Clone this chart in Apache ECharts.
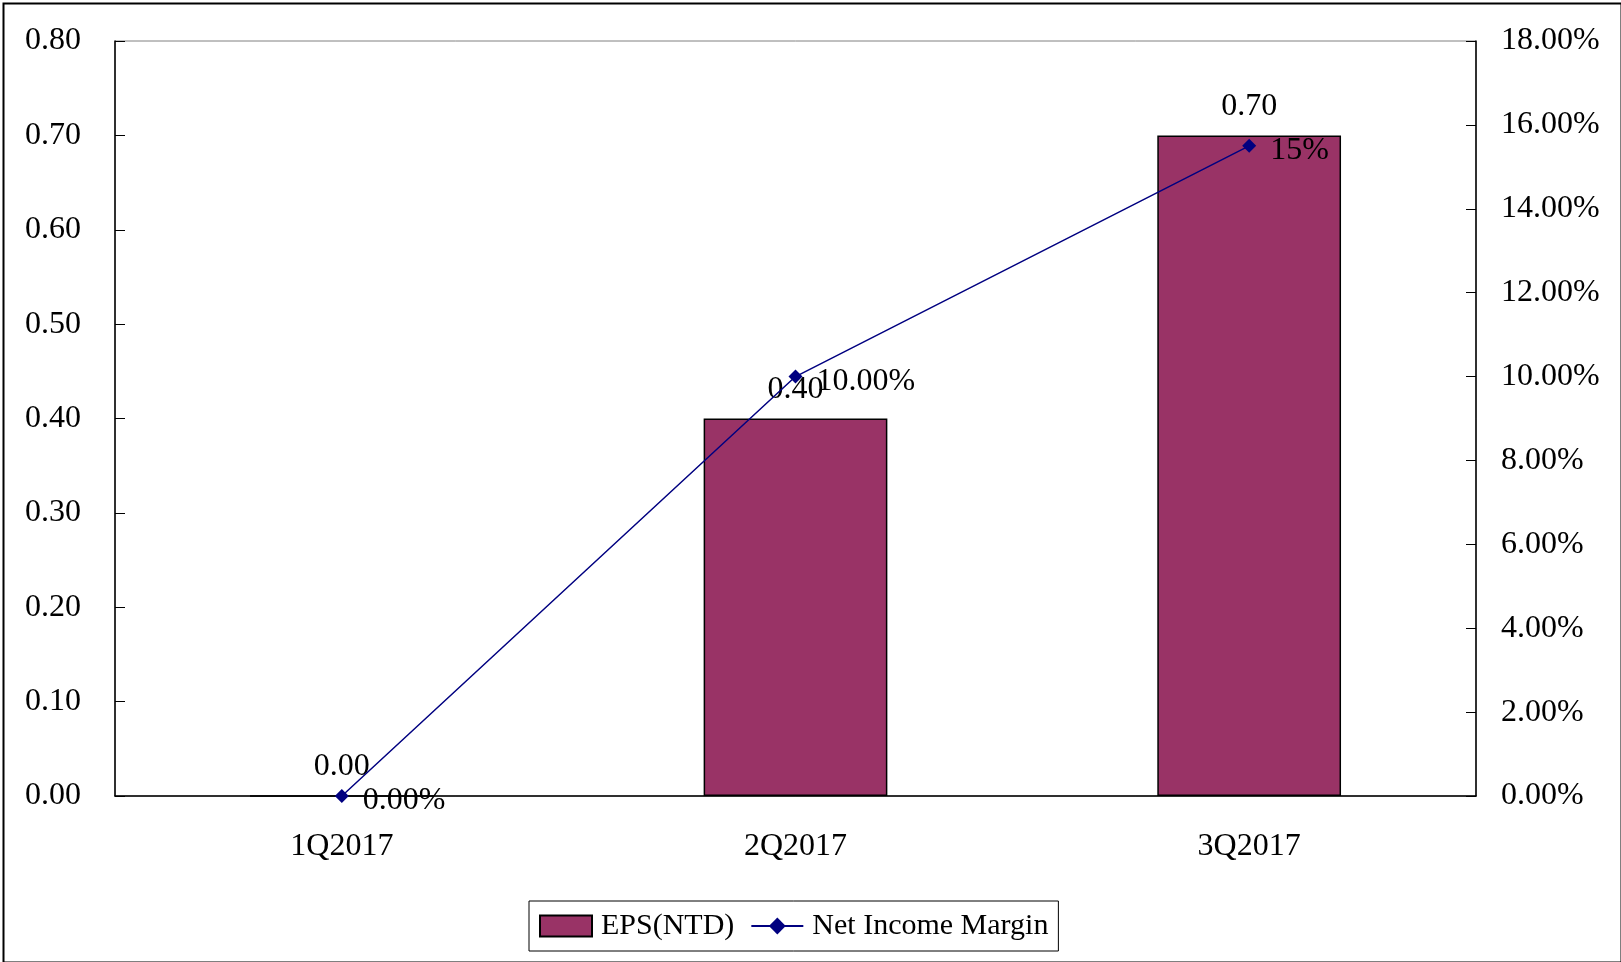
<!DOCTYPE html>
<html>
<head>
<meta charset="utf-8">
<script src="https://cdn.jsdelivr.net/npm/echarts@6/dist/echarts.min.js"></script>
<style>
html,body{margin:0;padding:0;background:#fff;}
#chart{width:1621px;height:962px;}
</style>
</head>
<body>
<div id="chart"></div>
<script>
const categories = ['1Q2017', '2Q2017', '3Q2017'];
const epsValues = [0.00, 0.40, 0.70];
const marginValues = [0, 10.0, 15.5];
const marginLabels = ['0.00%', '10.00%', '15%'];
const epsLabels = ['0.00', '0.40', '0.70'];

const FONT = '"Liberation Serif", "DejaVu Serif", serif';
const FS = 32;
const chart = echarts.init(document.getElementById('chart'));
chart.setOption({
  backgroundColor: '#fff',
  animation: false,
  textStyle: { fontFamily: FONT },
  graphic: [{
    type: 'rect', left: 1, top: 1,
    shape: { width: 1618, height: 959 },
    style: { fill: 'none', stroke: '#000', lineWidth: 2 },
    silent: true
  }],
  grid: { left: 115, right: 145, top: 41, bottom: 166, show: true, borderColor: '#808080', borderWidth: 1 },
  legend: {
    left: 529, top: 901,
    padding: [10, 10, 10, 10],
    borderColor: '#000', borderWidth: 1,
    itemWidth: 52, itemHeight: 21, itemGap: 16,
    textStyle: { fontFamily: FONT, fontSize: 30, color: '#000', padding: [0, 0, 0, 4] },
    data: [{ name: 'EPS(NTD)', icon: 'rect' }, { name: 'Net Income Margin' }]
  },
  xAxis: {
    type: 'category', data: categories,
    axisLine: { lineStyle: { color: '#000', width: 1.5 } },
    axisTick: { inside: true, length: 10, lineStyle: { color: '#000' } },
    axisLabel: { fontFamily: FONT, fontSize: FS, color: '#000', margin: 35 },
    splitLine: { show: false }
  },
  yAxis: [{
    type: 'value', min: 0, max: 0.8, interval: 0.1,
    axisLine: { show: true, lineStyle: { color: '#000', width: 1.5 } },
    axisTick: { show: true, inside: true, length: 10, lineStyle: { color: '#000' } },
    axisLabel: { fontFamily: FONT, fontSize: FS, color: '#000', margin: 34, formatter: v => v.toFixed(2) },
    splitLine: { show: false }
  }, {
    type: 'value', min: 0, max: 18, interval: 2, position: 'right',
    axisLine: { show: true, lineStyle: { color: '#000', width: 1.5 } },
    axisTick: { show: true, inside: true, length: 10, lineStyle: { color: '#000' } },
    axisLabel: { fontFamily: FONT, fontSize: FS, color: '#000', margin: 25, formatter: v => v.toFixed(2) + '%' },
    splitLine: { show: false }
  }],
  series: [{
    name: 'EPS(NTD)', type: 'bar', data: epsValues, yAxisIndex: 0,
    barWidth: '40.5%',
    itemStyle: { color: '#993366', borderColor: '#000', borderWidth: 1.5 },
    label: {
      show: true, position: 'top', distance: 13,
      fontFamily: FONT, fontSize: FS, color: '#000',
      formatter: p => epsLabels[p.dataIndex]
    }
  }, {
    name: 'Net Income Margin', type: 'line', data: marginValues, yAxisIndex: 1,
    symbol: 'diamond', symbolSize: 14,
    lineStyle: { color: '#000080', width: 1.5 },
    itemStyle: { color: '#000080' },
    label: {
      show: true, position: 'right', distance: 14, offset: [0, 5],
      fontFamily: FONT, fontSize: FS, color: '#000',
      formatter: p => marginLabels[p.dataIndex]
    }
  }]
});
</script>
</body>
</html>
